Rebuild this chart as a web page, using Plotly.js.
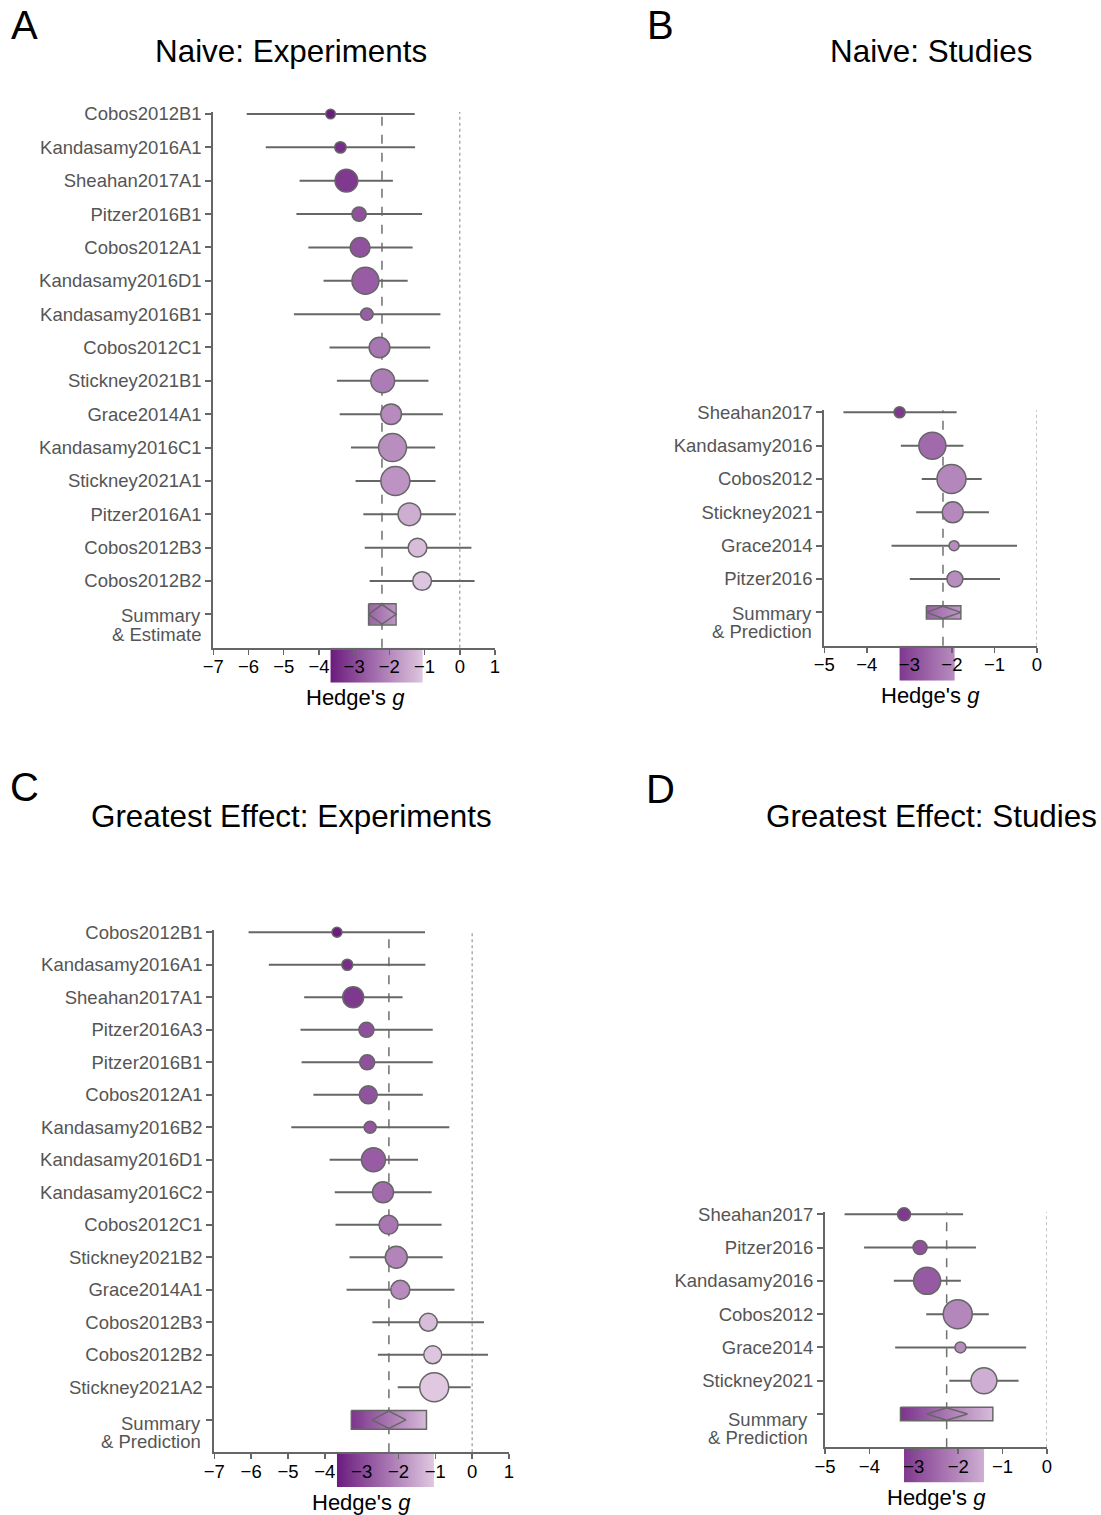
<!DOCTYPE html>
<html>
<head>
<meta charset="utf-8">
<script src="https://cdn.plot.ly/plotly-3.0.1.min.js"></script>
<style>html,body{margin:0;padding:0;background:#fff;}#chart{width:1101px;height:1515px;}</style>
</head>
<body>
<div id="chart"></div>
<script>
// ---------------- DATA ----------------
// Panel A: Naive, experiments
const aLabels = ['Cobos2012B1','Kandasamy2016A1','Sheahan2017A1','Pitzer2016B1','Cobos2012A1','Kandasamy2016D1','Kandasamy2016B1','Cobos2012C1','Stickney2021B1','Grace2014A1','Kandasamy2016C1','Stickney2021A1','Pitzer2016A1','Cobos2012B3','Cobos2012B2'];
const aG  = [-3.67,-3.39,-3.22,-2.86,-2.83,-2.68,-2.64,-2.28,-2.19,-1.95,-1.91,-1.83,-1.43,-1.20,-1.07];
const aLo = [-6.05,-5.51,-4.55,-4.64,-4.30,-3.87,-4.71,-3.70,-3.49,-3.41,-3.09,-2.96,-2.74,-2.70,-2.56];
const aHi = [-1.28,-1.27,-1.90,-1.07,-1.34,-1.48,-0.55,-0.84,-0.89,-0.48,-0.70,-0.69,-0.11,0.33,0.42];
const aWeight = [1.4,2.0,8.0,3.2,6.0,11.2,2.4,6.6,8.8,6.6,12.1,13.0,8.0,5.4,5.4];
const aSummary = [-2.21,-2.59,-1.81,-2.59,-1.81]; // estimate, CI low, CI high, PI low, PI high

// Panel B: Naive, studies
const bLabels = ['Sheahan2017','Kandasamy2016','Cobos2012','Stickney2021','Grace2014','Pitzer2016'];
const bG  = [-3.23,-2.46,-2.01,-1.98,-1.95,-1.93];
const bLo = [-4.55,-3.20,-2.71,-2.84,-3.42,-2.99];
const bHi = [-1.89,-1.73,-1.30,-1.13,-0.47,-0.87];
const bWeight = [4.9,29.3,33.8,17.7,4.0,10.3];
const bSummary = [-2.21,-2.60,-1.79,-2.60,-1.79];

// Panel C: Greatest effect, experiments
const cLabels = ['Cobos2012B1','Kandasamy2016A1','Sheahan2017A1','Pitzer2016A3','Pitzer2016B1','Cobos2012A1','Kandasamy2016B2','Kandasamy2016D1','Kandasamy2016C2','Cobos2012C1','Stickney2021B2','Grace2014A1','Cobos2012B3','Cobos2012B2','Stickney2021A2'];
const cG  = [-3.67,-3.39,-3.23,-2.87,-2.85,-2.82,-2.77,-2.68,-2.42,-2.27,-2.06,-1.95,-1.19,-1.07,-1.03];
const cLo = [-6.07,-5.52,-4.56,-4.66,-4.63,-4.31,-4.91,-3.87,-3.73,-3.71,-3.33,-3.41,-2.71,-2.56,-2.02];
const cHi = [-1.28,-1.27,-1.89,-1.07,-1.07,-1.34,-0.62,-1.47,-1.10,-0.83,-0.80,-0.48,0.32,0.43,-0.04];
const cWeight = [1.9,2.3,8.3,4.3,4.3,6.1,2.7,10.9,8.3,6.8,9.1,6.8,6.1,6.1,15.9];
const cSummary = [-2.26,-2.72,-1.80,-3.28,-1.24];

// Panel D: Greatest effect, studies
const dLabels = ['Sheahan2017','Pitzer2016','Kandasamy2016','Cobos2012','Grace2014','Stickney2021'];
const dG  = [-3.22,-2.86,-2.70,-2.01,-1.95,-1.42];
const dLo = [-4.56,-4.12,-3.45,-2.72,-3.42,-2.20];
const dHi = [-1.89,-1.60,-1.94,-1.31,-0.47,-0.64];
const dWeight = [6.2,7.2,26.7,30.8,4.4,24.7];
const dSummary = [-2.26,-2.71,-1.79,-3.30,-1.22];

const panelTitles = ['Naive: Experiments','Naive: Studies','Greatest Effect: Experiments','Greatest Effect: Studies'];
const panelLetters = ['A','B','C','D'];
const summaryLabels = [['Summary','& Estimate'],['Summary','& Prediction'],['Summary','& Prediction'],['Summary','& Prediction']];
const xTickVals = [[-7,-6,-5,-4,-3,-2,-1,0,1],[-5,-4,-3,-2,-1,0],[-7,-6,-5,-4,-3,-2,-1,0,1],[-5,-4,-3,-2,-1,0]];

// ---------------- STYLE / LAYOUT ----------------
const W = 1101, H = 1515;
const FONT = '"Liberation Sans", Arial, Helvetica, sans-serif';
const GREY = '#666666';
const SCALE = [[0,'#6b1c7e'],[0.5,'#a571af'],[1,'#dfc8e0']];
const px = v => v / W;
const py = v => 1 - v / H;

// one shared colour mapping for the whole figure
const allG = aG.concat(bG, cG, dG);
const CMIN = Math.min(...allG), CMAX = Math.max(...allG);

const panels = [
  {labels:aLabels,g:aG,lo:aLo,hi:aHi,w:aWeight,s:aSummary,
   xpx:[213.3,495],yTop:114,yBot:647.7,stripBot:682.7,range:[-7,1],sumHalf:0.32,
   letter:[24,25],title:[291,51],labRight:203,sumY:[1,19],xtitle:[355,697]},
  {labels:bLabels,g:bG,lo:bLo,hi:bHi,w:bWeight,s:bSummary,
   xpx:[824.3,1037],yTop:412.3,yBot:645.7,stripBot:680.7,range:[-5,0],sumHalf:0.2,
   letter:[660,25],title:[931,51],labRight:814,sumY:[1,18],xtitle:[930,695]},
  {labels:cLabels,g:cG,lo:cLo,hi:cHi,w:cWeight,s:cSummary,
   xpx:[214.3,509],yTop:932.3,yBot:1452.3,stripBot:1487,range:[-7,1],sumHalf:0.29,
   letter:[24,787],title:[291,816],labRight:203,sumY:[4,18],xtitle:[361,1502]},
  {labels:dLabels,g:dG,lo:dLo,hi:dHi,w:dWeight,s:dSummary,
   xpx:[825,1047],yTop:1214.3,yBot:1447.3,stripBot:1482.7,range:[-5,0],sumHalf:0.2,
   letter:[660,789],title:[931,816],labRight:810,sumY:[5,18],xtitle:[936,1497]}
];

function edges(lo, hi, n) {
  const e = [];
  for (let i = 0; i <= n; i++) e.push(lo + (hi - lo) * i / n);
  return e;
}
function mids(e) {
  const m = [];
  for (let i = 0; i < e.length - 1; i++) m.push((e[i] + e[i + 1]) / 2);
  return m;
}

const data = [];
const layout = {
  width: W, height: H,
  margin: {l:0, r:0, t:0, b:0},
  paper_bgcolor: '#ffffff',
  plot_bgcolor: 'rgba(0,0,0,0)',
  showlegend: false,
  font: {family: FONT, color: '#000'},
  annotations: [],
  shapes: []
};

panels.forEach((p, i) => {
  const n = p.labels.length;
  const pmin = Math.min(...p.g), pmax = Math.max(...p.g);
  const sIdx = i + 1;        // colour strip subplot (drawn first, underneath)
  const mIdx = i + 5;        // main forest-plot subplot
  const xs = 'x' + sIdx, ys = 'y' + sIdx, xm = 'x' + mIdx, ym = 'y' + mIdx;
  const xdom = [px(p.xpx[0]), px(p.xpx[1])];
  const spacing = (p.yBot - p.yTop) / (n + 1);
  const topPad = 0.06;

  // --- colour strip axes
  layout['xaxis' + sIdx] = {domain: xdom, range: p.range, visible: false, anchor: ys, fixedrange: true};
  layout['yaxis' + sIdx] = {domain: [py(p.stripBot), py(p.yBot)], range: [0, 1], visible: false, anchor: xs, fixedrange: true};
  const se = edges(pmin, pmax, 120);
  data.push({type:'heatmap', xaxis: xs, yaxis: ys, x: se, y: [0, 1], z: [mids(se)],
    colorscale: SCALE, zmin: CMIN, zmax: CMAX, showscale: false, hoverinfo: 'skip'});

  // --- main axes
  const tickvals = [], ticktext = [];
  for (let k = 0; k <= n; k++) { tickvals.push(k); ticktext.push(k < n ? p.labels[k] : ''); }
  layout['xaxis' + mIdx] = {
    domain: xdom, range: p.range, anchor: ym, showgrid: false, zeroline: false,
    showline: true, linecolor: GREY, linewidth: 2,
    ticks: 'outside', ticklen: 5, tickwidth: 1.5, tickcolor: GREY,
    tickmode: 'array', tickvals: xTickVals[i], ticklabelstandoff: -4,
    tickfont: {family: FONT, size: 18.5, color: '#000'}
  };
  layout['yaxis' + mIdx] = {
    domain: [py(p.yBot), py(p.yTop - topPad * spacing)], range: [n + 1, -topPad], anchor: xm,
    showgrid: false, zeroline: false, showline: true, linecolor: GREY, linewidth: 2,
    ticks: 'outside', ticklen: 6, tickwidth: 2, tickcolor: GREY,
    tickmode: 'array', tickvals: tickvals, ticktext: ticktext,
    tickfont: {family: FONT, size: 18.5, color: '#555'}
  };

  // --- reference lines (below traces)
  layout.shapes.push({type:'line', xref: xm, yref: ym + ' domain', x0: p.s[0], x1: p.s[0], y0: 0, y1: 1,
    line: {color: '#707070', width: 1.5, dash: 'dash'}, layer: 'below'});
  layout.shapes.push({type:'line', xref: xm, yref: ym + ' domain', x0: 0, x1: 0, y0: 0, y1: 1,
    line: {color: '#999', width: 1.2, dash: 'dot'}, layer: 'below'});

  // --- summary prediction/estimate band (gradient)
  const row = n, h = p.sumHalf;
  const be = edges(p.s[3], p.s[4], 80);
  data.push({type:'heatmap', xaxis: xm, yaxis: ym, x: be, y: [row - h, row + h], z: [mids(be)],
    colorscale: SCALE, zmin: CMIN, zmax: CMAX, showscale: false, hoverinfo: 'skip'});

  // --- study points with CIs
  const wmax = Math.max(...p.w);
  data.push({
    type: 'scatter', mode: 'markers', xaxis: xm, yaxis: ym,
    x: p.g, y: p.labels.map((_, k) => k), cliponaxis: false,
    marker: {size: p.w.map(v => 29 * Math.sqrt(v / wmax)), color: p.g, colorscale: SCALE,
      cmin: CMIN, cmax: CMAX, showscale: false, line: {color: GREY, width: 1.5}, opacity: 1},
    error_x: {type: 'data', symmetric: false,
      array: p.hi.map((v, k) => v - p.g[k]), arrayminus: p.lo.map((v, k) => p.g[k] - v),
      color: GREY, thickness: 2, width: 0},
    hoverinfo: 'x+text', text: p.labels
  });

  // --- band outline and summary diamond
  data.push({type:'scatter', mode:'lines', xaxis: xm, yaxis: ym, cliponaxis: false,
    x: [p.s[3], p.s[3], p.s[4], p.s[4], p.s[3]],
    y: [row - h, row + h, row + h, row - h, row - h],
    line: {color: GREY, width: 1.5}, hoverinfo: 'skip'});
  const dh = h * 0.92;
  data.push({type:'scatter', mode:'lines', xaxis: xm, yaxis: ym, cliponaxis: false,
    x: [p.s[1], p.s[0], p.s[2], p.s[0], p.s[1]],
    y: [row, row - dh, row, row + dh, row],
    line: {color: GREY, width: 1.5}, hoverinfo: 'skip'});

  // --- summary row label (two lines, first aligned to the tick)
  summaryLabels[i].forEach((t, k) => {
    layout.annotations.push({text: t, xref: 'paper', yref: ym, x: px(p.labRight), y: row,
      xanchor: 'right', yanchor: 'middle', yshift: -(p.sumY[0] + (k ? p.sumY[1] : 0)),
      showarrow: false, font: {family: FONT, size: 18.5, color: '#555'}});
  });

  // --- panel letter, title, x-axis title
  layout.annotations.push({text: panelLetters[i], xref: 'paper', yref: 'paper',
    x: px(p.letter[0]), y: py(p.letter[1]), xanchor: 'center', yanchor: 'middle',
    showarrow: false, font: {family: FONT, size: 40, color: '#000'}});
  layout.annotations.push({text: panelTitles[i], xref: 'paper', yref: 'paper',
    x: px(p.title[0]), y: py(p.title[1]), xanchor: 'center', yanchor: 'middle',
    showarrow: false, font: {family: FONT, size: 31.4, color: '#000'}});
  layout.annotations.push({text: "Hedge's <i>g</i>", xref: 'paper', yref: 'paper',
    x: px(p.xtitle[0]), y: py(p.xtitle[1]), xanchor: 'center', yanchor: 'middle',
    showarrow: false, font: {family: FONT, size: 22, color: '#000'}});
});

Plotly.newPlot('chart', data, layout, {staticPlot: true, displayModeBar: false});
</script>
</body>
</html>
